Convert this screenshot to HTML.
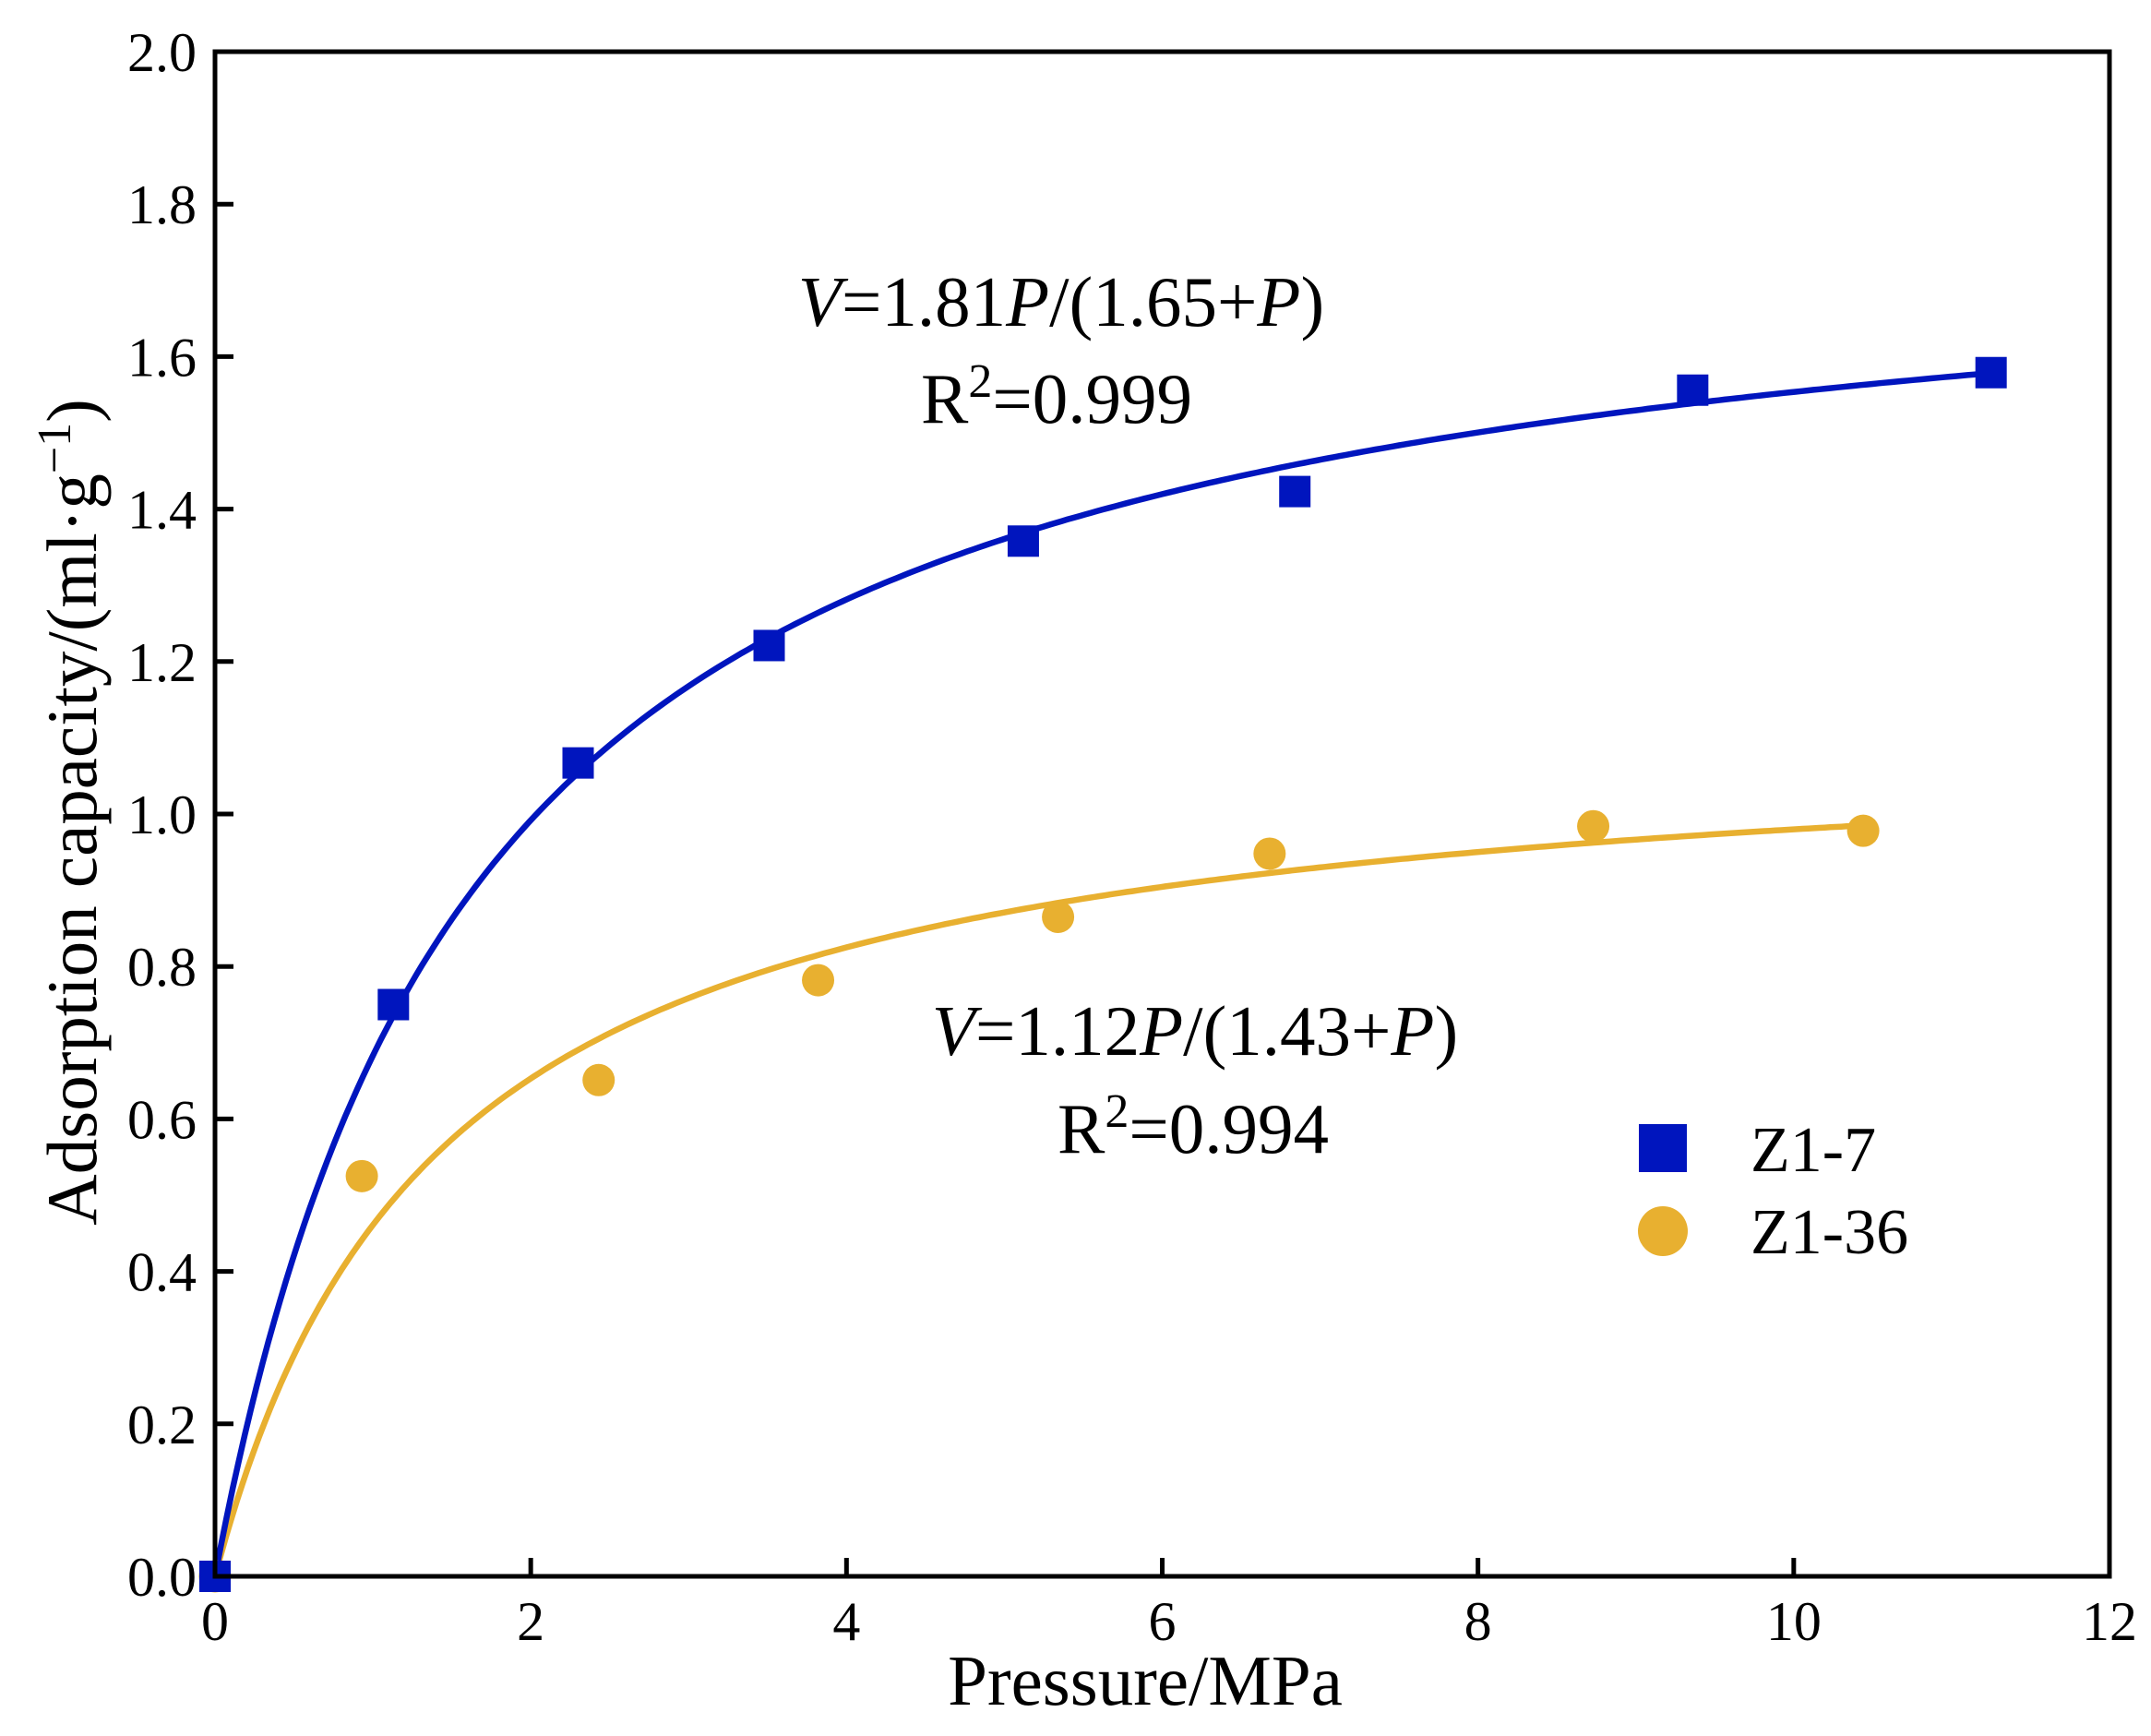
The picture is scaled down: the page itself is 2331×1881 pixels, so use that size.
<!DOCTYPE html>
<html><head><meta charset="utf-8"><style>
html,body{margin:0;padding:0;background:#fff;}
svg{display:block;font-family:"Liberation Serif",serif;}
</style></head><body>
<svg id="chart" width="2331" height="1881" viewBox="0 0 2331 1881" xmlns="http://www.w3.org/2000/svg">
<g id="plot"></g>
</svg>
<script>
const xTicks=[0,2,4,6,8,10,12];
const yTicks=[0.0,0.2,0.4,0.6,0.8,1.0,1.2,1.4,1.6,1.8,2.0];
const z17P=[0,1.13,2.30,3.51,5.12,6.84,9.36,11.25];
const z17V=[0,0.75,1.067,1.221,1.358,1.423,1.556,1.579];
const z136P=[0,0.93,2.43,3.82,5.34,6.68,8.73,10.44];
const z136V=[0,0.525,0.651,0.782,0.865,0.948,0.984,0.978];
const fitA=[1.81,1.12];
const fitB=[1.65,1.43];

const L=233,R=2286,T=56,B=1708;
const sx=v=>L+(v-0)/(12-0)*(R-L);
const sy=v=>B-(v-0)/(2-0)*(B-T);
const NS="http://www.w3.org/2000/svg";
const g=document.getElementById('plot');
function mk(tag,attrs,parent){const e=document.createElementNS(NS,tag);for(const k in attrs)e.setAttribute(k,attrs[k]);(parent||g).appendChild(e);return e;}
const blue="#0015BE", orange="#E8B030";

function curve(a,b,pmax,color,name){
  let d="";
  for(let i=0;i<=300;i++){const p=pmax*i/300;const v=a*p/(b+p);d+=(i?"L":"M")+sx(p).toFixed(1)+","+sy(v).toFixed(1);}
  const e=mk('path',{d:d,fill:"none",stroke:color,"stroke-width":6.5});
  
  
}
curve(fitA[1],fitB[1],z136P[z136P.length-1],orange,'z1-36-fit-curve');
curve(fitA[0],fitB[0],z17P[z17P.length-1],blue,'z1-7-fit-curve');

z136P.forEach((p,i)=>{
  const c=mk('circle',{cx:sx(p),cy:sy(z136V[i]),r:17.5,fill:orange});
  
  
});
z17P.forEach((p,i)=>{
  const r=mk('rect',{x:sx(p)-17,y:sy(z17V[i])-17,width:34,height:34,fill:blue});
  
  
});

const fr=mk('rect',{x:L,y:T,width:R-L,height:B-T,fill:"none",stroke:"#000","stroke-width":5});



xTicks.forEach(t=>{
  const x=sx(t);
  const l=mk('line',{x1:x,y1:B,x2:x,y2:B-20,stroke:"#000","stroke-width":5});
  
  
  const tx=mk('text',{x:x,y:1777,"font-size":60,"text-anchor":"middle"});
  tx.textContent=t;
  
  
});
yTicks.forEach(t=>{
  const y=sy(t);
  const l=mk('line',{x1:L,y1:y,x2:L+20,y2:y,stroke:"#000","stroke-width":5});
  
  
  const tx=mk('text',{x:213,y:y+21,"font-size":60,"text-anchor":"end"});
  tx.textContent=t.toFixed(1);
  
  
});
</script>
<svg width="2331" height="1881" style="position:absolute;left:0;top:0" xmlns="http://www.w3.org/2000/svg" font-family="Liberation Serif, serif">
<text x="1241" y="1847" font-size="77" text-anchor="middle">Pressure/MPa</text>
<text transform="translate(104,880) rotate(-90)" font-size="77" text-anchor="middle">Adsorption capacity/(ml·g<tspan baseline-shift="super" font-size="52">−1</tspan>)</text>
<text x="1150" y="353" font-size="77" text-anchor="middle"><tspan font-style="italic">V</tspan>=1.81<tspan font-style="italic">P</tspan>/(1.65+<tspan font-style="italic">P</tspan>)</text>
<text x="1145" y="458" font-size="77" text-anchor="middle">R<tspan baseline-shift="super" font-size="52">2</tspan>=0.999</text>
<text x="1295" y="1143" font-size="77" text-anchor="middle"><tspan font-style="italic">V</tspan>=1.12<tspan font-style="italic">P</tspan>/(1.43+<tspan font-style="italic">P</tspan>)</text>
<text x="1293" y="1249" font-size="77" text-anchor="middle">R<tspan baseline-shift="super" font-size="52">2</tspan>=0.994</text>
<g>
<rect x="1776" y="1218" width="52" height="52" fill="#0015BE"/>
<text x="1897" y="1269" font-size="70">Z1-7</text>
<circle cx="1802" cy="1334" r="27" fill="#E8B030"/>
<text x="1897" y="1358" font-size="70">Z1-36</text>
</g>
</svg>
</body></html>
